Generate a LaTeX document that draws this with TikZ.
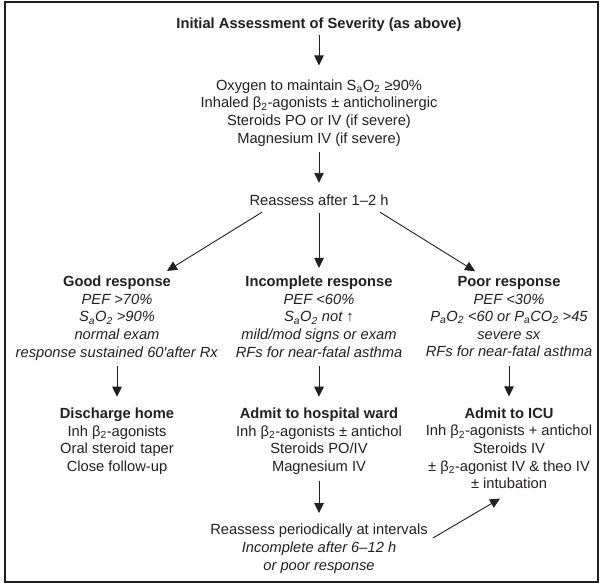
\documentclass[tikz,border=0pt]{standalone}
\usepackage{fontspec}
\setmainfont{Liberation Sans}
\usetikzlibrary{arrows.meta}
\definecolor{ink}{RGB}{35,31,32}
\newcommand{\sbs}[1]{\textsubscript{#1}}
\begin{document}
\begin{tikzpicture}[x=1pt,y=-1pt,
  txt/.style={inner sep=0pt, align=center, text=ink, font=\fontsize{14.7}{17.6}\selectfont,
    execute at begin node=\strut, execute at end node=\strut},
  arr/.style={draw=ink, line width=0.9pt, -{Triangle[width=9.5pt,length=10pt]}},
  frame/.style={draw=ink, line width=1.4pt}]
\useasboundingbox (0,0) rectangle (600,584);
\draw[frame] (5,2) rectangle (598,582);

\node[txt] (title) at (319,24.8) {\textbf{Initial Assessment of Severity (as above)}};
\node[txt] (oxy) at (319,114) {Oxygen to maintain S\sbs{a}O\sbs{2} ≥90\%\\
  Inhaled β\sbs{2}-agonists ± anticholinergic\\
  Steroids PO or IV (if severe)\\
  Magnesium IV (if severe)};
\node[txt] (reassess) at (319,201.8) {Reassess after 1–2 h};

\node[txt] (good) at (117,319.3) {\textbf{Good response}\\
  \textit{PEF >70\%}\\
  \textit{S\sbs{a}O\sbs{2} >90\%}\\
  \textit{normal exam}\\
  \textit{response sustained 60′after Rx}};
\node[txt] (inc) at (319,319.3) {\textbf{Incomplete response}\\
  \textit{PEF <60\%}\\
  \textit{S\sbs{a}O\sbs{2} not ↑}\\
  \textit{mild/mod signs or exam}\\
  \textit{RFs for near-fatal asthma}};
\node[txt] (poor) at (509,319.3) {\textbf{Poor response}\\
  \textit{PEF <30\%}\\
  \textit{P\sbs{a}O\sbs{2} <60 or P\sbs{a}CO\sbs{2} >45}\\
  \textit{severe sx}\\
  \textit{RFs for near-fatal asthma}};

\node[txt] (disc) at (117,442.3) {\textbf{Discharge home}\\
  Inh β\sbs{2}-agonists\\
  Oral steroid taper\\
  Close follow-up};
\node[txt] (hosp) at (319,442.3) {\textbf{Admit to hospital ward}\\
  Inh β\sbs{2}-agonists ± antichol\\
  Steroids PO/IV\\
  Magnesium IV};
\node[txt] (icu) at (509,450.8) {\textbf{Admit to ICU}\\
  Inh β\sbs{2}-agonists + antichol\\
  Steroids IV\\
  ± β\sbs{2}-agonist IV \& theo IV\\
  ± intubation};

\node[txt] (reas2) at (319,549.8) {Reassess periodically at intervals\\
  \textit{Incomplete after 6–12 h}\\
  \textit{or poor response}};

\draw[arr, shorten <=1.4pt, shorten >=14pt] (title.south) -- (oxy.north);
\draw[arr, shorten <=3.9pt, shorten >=10pt] (oxy.south) -- (reassess.north);
\draw[arr] ([shift={(-57,1.4)}]reassess.south) -- ([shift={(50,-5)}]good.north);
\draw[arr, shorten <=2.4pt, shorten >=8pt] (reassess.south) -- (inc.north);
\draw[arr] ([shift={(61,1.4)}]reassess.south) -- ([shift={(-34,-5)}]poor.north);
\draw[arr, shorten <=3.4pt, shorten >=11pt] (good.south) -- (disc.north);
\draw[arr, shorten <=3.4pt, shorten >=11pt] (inc.south) -- (hosp.north);
\draw[arr, shorten <=3.4pt, shorten >=11pt] (poor.south) -- (poor.south |- icu.north);
\draw[arr, shorten <=4.4pt, shorten >=11pt] (hosp.south) -- (reas2.north);
\draw[arr] ([shift={(5,14)}]reas2.north east) -- ([shift={(-9,4.4)}]icu.south);
\end{tikzpicture}
\end{document}
